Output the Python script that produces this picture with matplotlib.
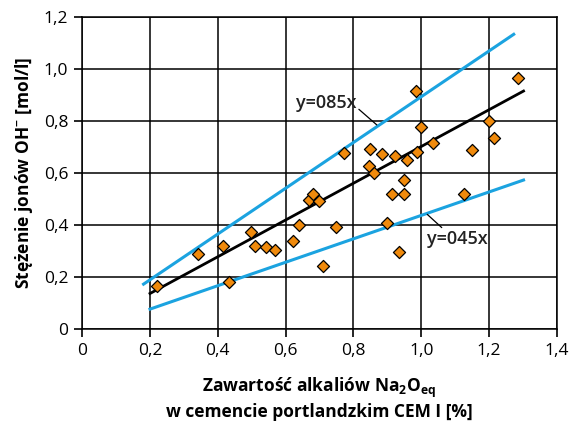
import numpy as np
import matplotlib
matplotlib.use('Agg')
import matplotlib.pyplot as plt
from matplotlib.ticker import FuncFormatter

plt.rcParams['font.family'] = ['Open Sans', 'DejaVu Sans']
plt.rcParams['mathtext.fontset'] = 'custom'
plt.rcParams['mathtext.rm'] = 'Open Sans'
plt.rcParams['mathtext.bf'] = 'Open Sans:bold'
plt.rcParams['mathtext.default'] = 'bf'

# measured points: Na2Oeq [%] vs OH- [mol/l]
na2o = [0.221, 0.342, 0.414, 0.432, 0.497, 0.511, 0.541, 0.569, 0.621, 0.640,
        0.668, 0.682, 0.699, 0.710, 0.748, 0.773, 0.845, 0.850, 0.860, 0.885,
        0.899, 0.915, 0.922, 0.935, 0.949, 0.949, 0.959, 0.986, 0.987, 1.000,
        1.034, 1.126, 1.149, 1.201, 1.214, 1.287]
oh = [0.165, 0.288, 0.320, 0.182, 0.374, 0.320, 0.314, 0.304, 0.340, 0.400,
      0.496, 0.519, 0.494, 0.242, 0.391, 0.676, 0.627, 0.693, 0.599, 0.672,
      0.409, 0.518, 0.664, 0.296, 0.573, 0.518, 0.651, 0.917, 0.680, 0.778,
      0.714, 0.518, 0.687, 0.800, 0.733, 0.967]

# trend line and bounds (end points)
fit_x = [0.20, 1.302]
fit_y = [0.137, 0.915]
upper_x = [0.181, 1.273]
upper_y = [0.173, 1.133]
lower_x = [0.20, 1.302]
lower_y = [0.077, 0.573]

fig = plt.figure(figsize=(5.83, 4.22), dpi=100)
ax = fig.add_axes([0.141, 0.220, 0.814, 0.740])

blue = '#1ba3e0'
ax.plot(upper_x, upper_y, color=blue, lw=2.2, zorder=3)
ax.plot(lower_x, lower_y, color=blue, lw=2.2, zorder=3)
ax.plot(fit_x, fit_y, color='black', lw=2.0, zorder=3)
ax.scatter(na2o, oh, marker='D', s=38, facecolor='#f08a0c', edgecolor='black',
           linewidths=0.9, zorder=4)

ax.annotate('y=085x', xy=(0.869, 0.785), xytext=(0.808, 0.868),
            ha='right', va='center', fontsize=13, fontweight='semibold', color='#222222',
            arrowprops=dict(arrowstyle='-', color='black', lw=0.9, shrinkA=0, shrinkB=0,
                            relpos=(1.0, 0.3)))
ax.annotate('y=045x', xy=(1.018, 0.441), xytext=(1.016, 0.345),
            ha='left', va='center', fontsize=13, fontweight='semibold', color='#222222',
            arrowprops=dict(arrowstyle='-', color='black', lw=0.9, shrinkA=0, shrinkB=0,
                            relpos=(0.3, 1.0)))

ax.set_xlim(0, 1.4)
ax.set_ylim(0, 1.2)
ax.set_xticks(np.arange(0, 1.41, 0.2))
ax.set_yticks(np.arange(0, 1.21, 0.2))
fmt = FuncFormatter(lambda v, p: '0' if abs(v) < 1e-9 else f'{v:.1f}'.replace('.', ','))
ax.xaxis.set_major_formatter(fmt)
ax.yaxis.set_major_formatter(fmt)
ax.tick_params(direction='out', length=6, width=1.2, color='black', labelsize=12.5, pad=4)
ax.grid(True, color='black', lw=1.1)
ax.set_axisbelow(True)
for s in ax.spines.values():
    s.set_color('black')
    s.set_linewidth(1.1)

ax.set_ylabel('Stężenie jonów OH$^{-}$ [mol/l]', fontsize=12.5, fontweight='bold', labelpad=6)
ax.set_xlabel('Zawartość alkaliów Na$_{2}$O$_{eq}$\nw cemencie portlandzkim CEM I [%]',
              fontsize=12.5, fontweight='bold', labelpad=12, linespacing=1.2)

fig.savefig('out.png', dpi=100)
